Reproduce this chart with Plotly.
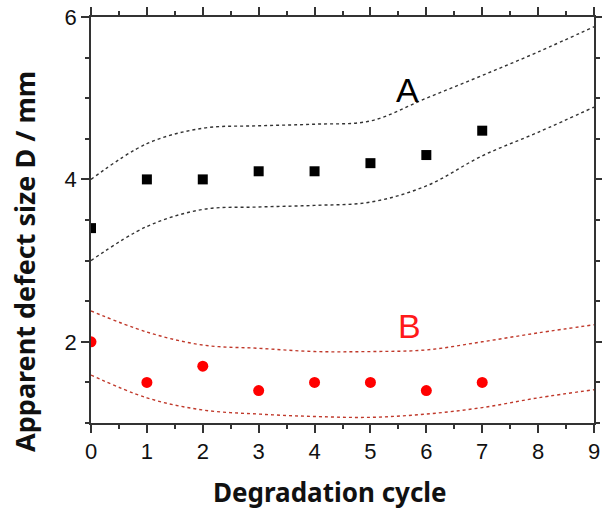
import plotly.graph_objects as go

# Data
cycles = [0, 1, 2, 3, 4, 5, 6, 7]
size_A = [3.4, 4.0, 4.0, 4.1, 4.1, 4.2, 4.3, 4.6]
size_B = [2.0, 1.5, 1.7, 1.4, 1.5, 1.5, 1.4, 1.5]

band_x = [0, 1, 2, 3, 4, 5, 6, 7, 8, 9]
A_upper = [4.0, 4.44, 4.63, 4.66, 4.68, 4.72, 5.0, 5.28, 5.57, 5.88]
A_lower = [3.0, 3.42, 3.63, 3.66, 3.68, 3.72, 3.92, 4.29, 4.58, 4.89]
B_upper = [2.38, 2.12, 1.96, 1.92, 1.88, 1.88, 1.9, 2.0, 2.11, 2.21]
B_lower = [1.59, 1.31, 1.16, 1.11, 1.08, 1.07, 1.11, 1.19, 1.31, 1.41]

x_ticks = list(range(0, 10))
y_ticks = [2, 4, 6]

fig = go.Figure()
for yv in (A_upper, A_lower):
    fig.add_trace(go.Scatter(x=band_x, y=yv, mode="lines",
                             line=dict(color="#333333", width=1.4, dash="dot", shape="spline"),
                             showlegend=False, hoverinfo="skip"))
for yv in (B_upper, B_lower):
    fig.add_trace(go.Scatter(x=band_x, y=yv, mode="lines",
                             line=dict(color="#c0392b", width=1.4, dash="dot", shape="spline"),
                             showlegend=False, hoverinfo="skip"))

fig.add_trace(go.Scatter(x=cycles, y=size_A, mode="markers",
                         marker=dict(symbol="square", size=10, color="black"),
                         showlegend=False))
fig.add_trace(go.Scatter(x=cycles, y=size_B, mode="markers",
                         marker=dict(symbol="circle", size=11, color="#ff0000"),
                         showlegend=False))

fig.add_annotation(x=5.67, y=5.1, text="A", showarrow=False,
                   font=dict(family="Liberation Sans", size=34, color="black"))
fig.add_annotation(x=5.7, y=2.2, text="B", showarrow=False,
                   font=dict(family="Liberation Sans", size=34, color="#ff1a1a"))

# axis titles as annotations (placed like the reference)
fig.add_annotation(xref="paper", yref="paper", x=-0.131, y=0.397,
                   text="Apparent defect size D / mm", textangle=-90, showarrow=False,
                   xanchor="center", yanchor="middle",
                   font=dict(family="Noto Sans", size=27, color="#111111", weight="bold"))
fig.add_annotation(xref="paper", yref="paper", x=0.475, y=-0.170,
                   text="Degradation cycle", showarrow=False,
                   xanchor="center", yanchor="middle",
                   font=dict(family="Noto Sans", size=26, color="#111111", weight="bold"))

tick_font = dict(family="Liberation Sans", size=22, color="#111111")

axis_common = dict(showline=True, linecolor="#333333", linewidth=1.5, mirror="ticks",
                   ticks="outside", ticklen=8, tickwidth=1.5, tickcolor="#333333",
                   showgrid=False, zeroline=False, automargin=False, tickfont=tick_font)

fig.update_layout(
    width=602, height=512,
    margin=dict(l=91, r=8, t=17, b=89),
    plot_bgcolor="white", paper_bgcolor="white",
    font=dict(family="Liberation Sans", size=22, color="#111111"),
    xaxis=dict(range=[0, 9], tickmode="array", tickvals=x_ticks,
               ticktext=[str(v) for v in x_ticks],
               minor=dict(dtick=0.5, ticklen=4, tickwidth=1.5, tickcolor="#333333", ticks="outside"),
               **axis_common),
    yaxis=dict(range=[1, 6], tickmode="array", tickvals=y_ticks,
               ticktext=[str(v) for v in y_ticks],
               minor=dict(dtick=0.5, ticklen=4, tickwidth=1.5, tickcolor="#333333", ticks="outside"),
               **axis_common),
)

fig.write_html("out.html")
